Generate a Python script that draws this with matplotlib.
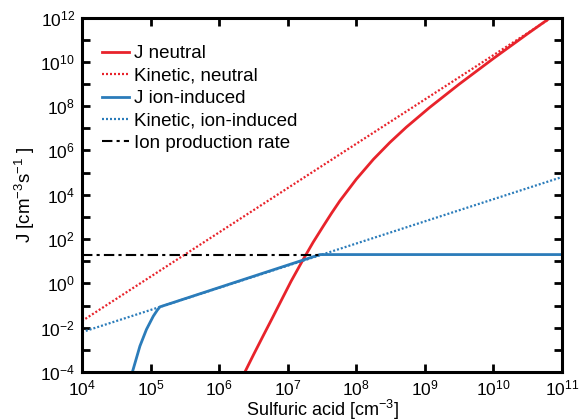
import numpy as np
import matplotlib.pyplot as plt

plt.rcParams['font.family'] = ['Liberation Sans', 'DejaVu Sans']
plt.rcParams['mathtext.fontset'] = 'custom'
plt.rcParams['mathtext.rm'] = 'Liberation Sans'
plt.rcParams['mathtext.it'] = 'Liberation Sans'

# Data (sulfuric acid conc. in cm^-3, J in cm^-3 s^-1)
# stored as log10 values
logx_neutral = [6.376, 6.5, 6.64, 6.77, 6.89, 7.05, 7.226, 7.37, 7.518, 7.64, 7.76,
                8.0, 8.25, 8.49, 8.73, 9.07, 9.5, 10.0, 10.5, 10.87, 11.0]
logJ_neutral = [-4.0, -3.23, -2.38, -1.6, -0.87, 0.10, 1.08, 1.85, 2.58, 3.17, 3.72,
                4.70, 5.60, 6.36, 7.05, 7.94, 8.99, 10.15, 11.27, 12.08, 12.36]

x_kin_neutral = [1e4, 1e11]
J_kin_neutral = [0.02, 2.0e12]

logx_ion = [4.739, 4.845, 4.94, 5.04, 5.10, 5.137, 7.47, 11.0]
logJ_ion = [-3.96, -2.83, -2.08, -1.48, -1.20, -1.06, 1.30, 1.30]

x_kin_ion = [1e4, 1e11]
J_kin_ion = [6.3e-3, 6.3e4]

x_ionprod = [1e4, 3.0e7]
J_ionprod = [20.0, 20.0]

red = '#e8232b'
blue = '#2b7cba'
dots = (0, (0.9, 0.9))

fig = plt.figure(figsize=(5.79, 4.2), dpi=100)
ax = fig.add_axes([0.1416, 0.1143, 0.829, 0.844])

ax.loglog(10.0**np.array(logx_neutral), 10.0**np.array(logJ_neutral), color=red, lw=2, label='J neutral')
ax.loglog(x_kin_neutral, J_kin_neutral, color=red, lw=1.6, ls=dots, label='Kinetic, neutral')
ax.loglog(x_kin_ion, J_kin_ion, color=blue, lw=1.6, ls=dots)
ax.loglog(10.0**np.array(logx_ion), 10.0**np.array(logJ_ion), color=blue, lw=2, label='J ion-induced')
ax.loglog([], [], color=blue, lw=1.6, ls=dots, label='Kinetic, ion-induced')
ax.loglog(x_ionprod, J_ionprod, color='black', lw=1.5, ls=(0, (5, 2, 1.5, 2)), label='Ion production rate')

ax.set_xlim(1e4, 1e11)
ax.set_ylim(1e-4, 1e12)

ax.set_xticks([10.0**k for k in range(4, 12)])
ax.set_xticklabels(['$10^{%d}$' % k for k in range(4, 12)])
ax.set_yticks([10.0**k for k in range(-4, 13)])
ax.set_yticklabels(['$10^{%d}$' % k if k % 2 == 0 else '' for k in range(-4, 13)])
ax.minorticks_off()

ax.tick_params(which='both', direction='in', top=True, right=True,
               length=5.5, width=2, labelsize=12.5)
ax.tick_params(axis='x', pad=5)
ax.tick_params(axis='y', pad=5)
for s in ax.spines.values():
    s.set_linewidth(2.2)

ax.set_xlabel('Sulfuric acid [cm$^{-3}$]', fontsize=13, labelpad=-1)
ax.set_ylabel('J [cm$^{-3}$s$^{-1}$ ]', fontsize=13.5, labelpad=2)

leg = ax.legend(loc='upper left', frameon=False, fontsize=13.5, handlelength=1.4,
                handletextpad=0.3, labelspacing=0.28, borderaxespad=0.0,
                bbox_to_anchor=(0.027, 0.943))

fig.savefig('out.png', dpi=100)
